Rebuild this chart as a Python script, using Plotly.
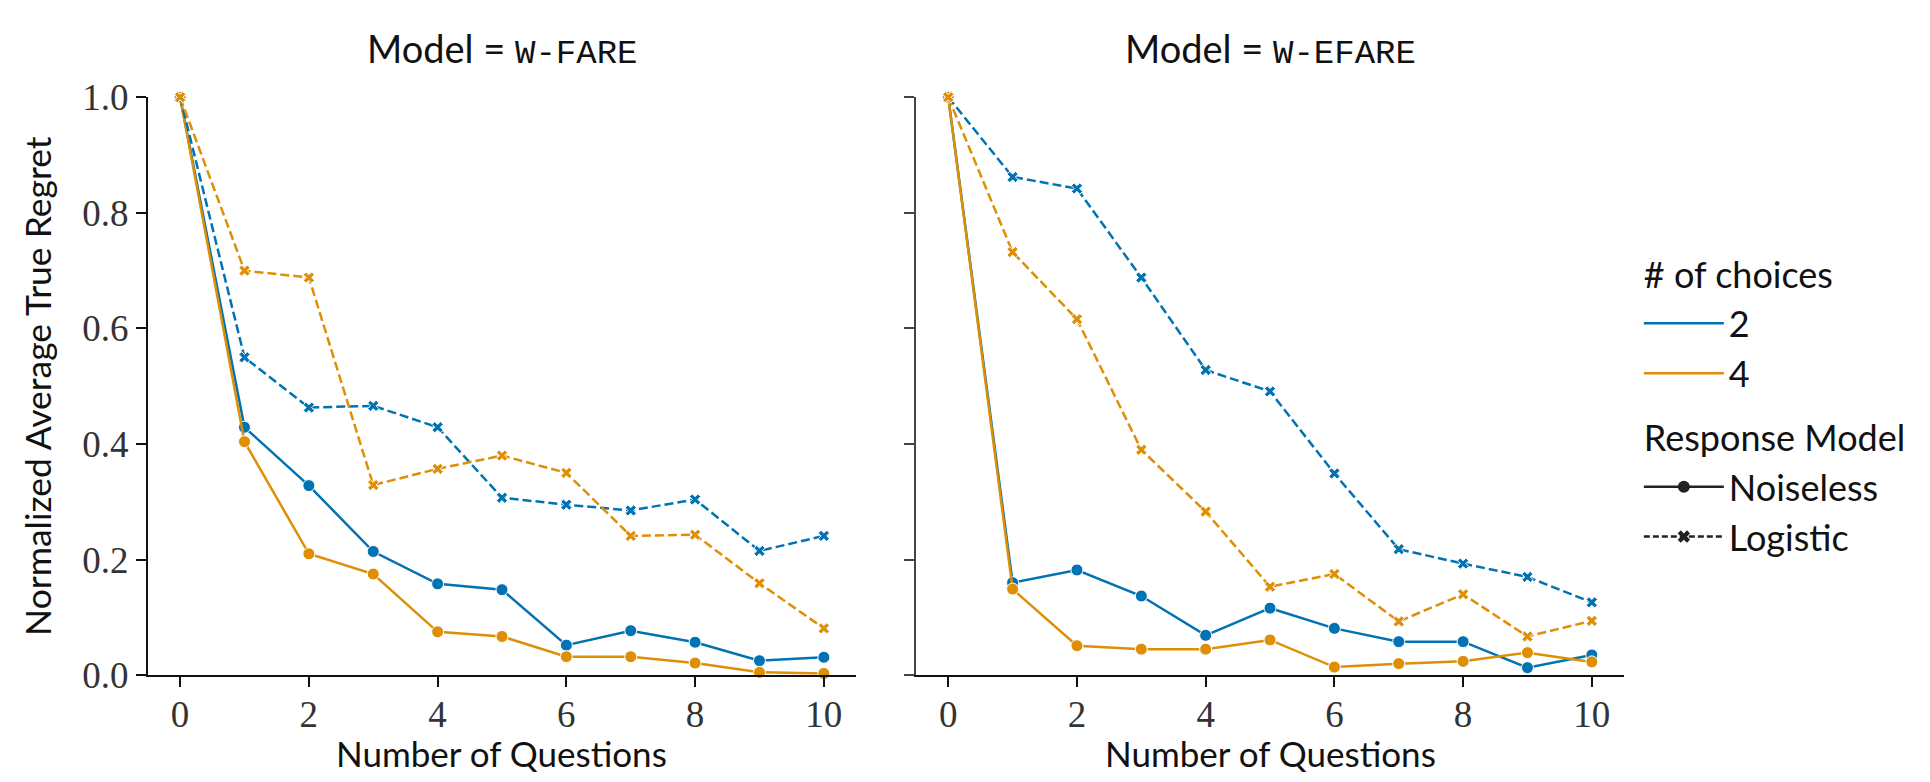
import plotly.graph_objects as go

questions = [0, 1, 2, 3, 4, 5, 6, 7, 8, 9, 10]

# Model = W-FARE
fare_2_noiseless = [1.0, 0.429, 0.328, 0.214, 0.158, 0.148, 0.052, 0.077, 0.057, 0.025, 0.031]
fare_4_noiseless = [1.0, 0.404, 0.210, 0.175, 0.075, 0.067, 0.032, 0.032, 0.021, 0.005, 0.003]
fare_2_logistic = [1.0, 0.550, 0.463, 0.466, 0.429, 0.307, 0.295, 0.285, 0.304, 0.215, 0.241]
fare_4_logistic = [1.0, 0.700, 0.688, 0.329, 0.357, 0.380, 0.350, 0.241, 0.243, 0.159, 0.081]

# Model = W-EFARE
efare_2_noiseless = [1.0, 0.160, 0.182, 0.137, 0.069, 0.116, 0.081, 0.058, 0.058, 0.013, 0.035]
efare_4_noiseless = [1.0, 0.149, 0.051, 0.045, 0.045, 0.061, 0.014, 0.020, 0.024, 0.039, 0.023]
efare_2_logistic = [1.0, 0.862, 0.842, 0.688, 0.528, 0.491, 0.349, 0.218, 0.193, 0.170, 0.126]
efare_4_logistic = [1.0, 0.732, 0.616, 0.390, 0.283, 0.153, 0.175, 0.093, 0.140, 0.067, 0.094]

x_ticks = [0, 2, 4, 6, 8, 10]
y_ticks = [0.0, 0.2, 0.4, 0.6, 0.8, 1.0]

BLUE = "#0173b2"
ORANGE = "#de8f05"
SANS = "Lato"
SERIF = "Liberation Serif"
MONO = "Liberation Mono"
DASH = "9px,4px"

LEFT_DOM = [0.0725, 0.4394]
RIGHT_DOM = [0.4705, 0.8373]
Y_DOM = [0.1266, 0.9066]

fig = go.Figure()


def add_panel(xa, ya, s2n, s4n, s2l, s4l):
    for vals, color, dash, sym in [
        (s2n, BLUE, "solid", "circle"),
        (s4n, ORANGE, "solid", "circle"),
        (s2l, BLUE, DASH, "x"),
        (s4l, ORANGE, DASH, "x"),
    ]:
        fig.add_trace(go.Scatter(
            x=questions, y=vals, xaxis=xa, yaxis=ya, mode="lines+markers",
            line=dict(color=color, width=2.5, dash=dash),
            marker=dict(symbol=sym, size=12 if sym == "circle" else 10, color=color,
                        line=dict(color="white", width=1)),
            showlegend=False, cliponaxis=False, hoverinfo="x+y",
        ))


add_panel("x", "y", fare_2_noiseless, fare_4_noiseless, fare_2_logistic, fare_4_logistic)
add_panel("x2", "y2", efare_2_noiseless, efare_4_noiseless, efare_2_logistic, efare_4_logistic)

# legend entries
fig.add_trace(go.Scatter(x=[None], y=[None], mode="lines", name="2",
                         line=dict(color=BLUE, width=2.5), legendgroup="choices",
                         legendgrouptitle=dict(text="# of choices")))
fig.add_trace(go.Scatter(x=[None], y=[None], mode="lines", name="4",
                         line=dict(color=ORANGE, width=2.5), legendgroup="choices"))
fig.add_trace(go.Scatter(x=[None], y=[None], mode="lines+markers", name="Noiseless",
                         line=dict(color="#222", width=2.5),
                         marker=dict(symbol="circle", size=12, color="#222"),
                         legendgroup="resp", legendgrouptitle=dict(text="Response Model")))
fig.add_trace(go.Scatter(x=[None], y=[None], mode="lines+markers", name="Logistic",
                         line=dict(color="#222", width=2.5, dash="6px,3px"),
                         marker=dict(symbol="x", size=11, color="#222"),
                         legendgroup="resp"))

axis_common = dict(
    showgrid=False, zeroline=False, showline=True, linewidth=2,
    ticks="outside", ticklen=10, tickwidth=2,
    tickfont=dict(family=SERIF, size=37, color="#333"),
)

title_y = (782 - 22) / 782
xtitle_font = dict(family=SANS, size=35, color="#111")
ptitle_font = dict(family=SANS, size=38, color="#111")

fig.update_layout(
    width=1930, height=782,
    margin=dict(l=0, r=0, t=0, b=0),
    paper_bgcolor="white", plot_bgcolor="white",
    font=dict(family=SANS, size=36, color="#111"),
    xaxis=dict(domain=LEFT_DOM, range=[-0.5, 10.5], tickvals=x_ticks, anchor="y",
               linecolor="#111", tickcolor="#111", ticklabelstandoff=-5, **axis_common),
    yaxis=dict(domain=Y_DOM, range=[0, 1], tickvals=y_ticks, tickformat=".1f", anchor="x",
               linecolor="#111", tickcolor="#111",
               title=dict(text="Normalized Average True Regret",
                          font=dict(family=SANS, size=35.5, color="#111"), standoff=20),
               **axis_common),
    xaxis2=dict(domain=RIGHT_DOM, range=[-0.5, 10.5], tickvals=x_ticks, anchor="y2",
                linecolor="#111", tickcolor="#111", ticklabelstandoff=-5, **axis_common),
    yaxis2=dict(domain=Y_DOM, range=[0, 1], tickvals=y_ticks, anchor="x2",
                linecolor="#444", tickcolor="#444",
                showticklabels=False, matches="y", **axis_common),
    legend=dict(
        x=0.845, y=0.709, xanchor="left", yanchor="top",
        font=dict(family=SANS, size=36, color="#111"),
        grouptitlefont=dict(family=SANS, size=36, color="#111"),
        traceorder="grouped", tracegroupgap=14, itemwidth=80,
        bgcolor="rgba(0,0,0,0)",
    ),
    annotations=[
        dict(text="Model = <span style='font-family:" + MONO + ";font-size:34px'>W-FARE</span>",
             x=sum(LEFT_DOM) / 2, y=title_y, xref="paper", yref="paper",
             xanchor="center", yanchor="middle", showarrow=False, font=ptitle_font),
        dict(text="Model = <span style='font-family:" + MONO + ";font-size:34px'>W-EFARE</span>",
             x=sum(RIGHT_DOM) / 2, y=title_y, xref="paper", yref="paper",
             xanchor="center", yanchor="middle", showarrow=False, font=ptitle_font),
        dict(text="Number of Questions", x=sum(LEFT_DOM) / 2, y=-0.008,
             xref="paper", yref="paper", xanchor="center", yanchor="bottom",
             showarrow=False, font=xtitle_font, borderpad=0),
        dict(text="Number of Questions", x=sum(RIGHT_DOM) / 2, y=-0.008,
             xref="paper", yref="paper", xanchor="center", yanchor="bottom",
             showarrow=False, font=xtitle_font, borderpad=0),
    ],
)

fig.write_html("out.html")
